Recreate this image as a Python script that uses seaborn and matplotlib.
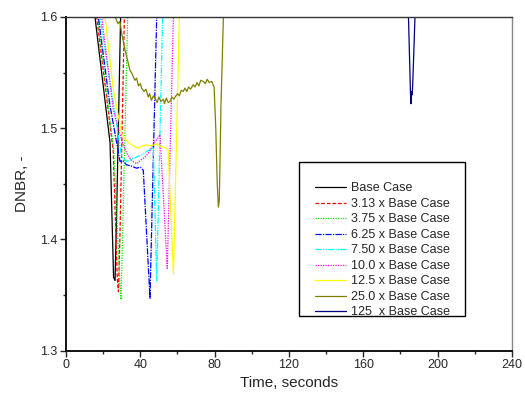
import matplotlib
matplotlib.use("Agg")
import matplotlib.pyplot as plt
from matplotlib.ticker import MultipleLocator
from matplotlib.patches import Rectangle
import seaborn as sns
import pandas as pd

sns.set_style("ticks")
plt.rcParams['font.family'] = ['Liberation Sans', 'DejaVu Sans']

# ---- data ----
base_t = [12.0, 15.6, 23.7, 25.6, 26.4, 27.2, 29.4, 30.5]
base_v = [1.66, 1.600, 1.487, 1.366, 1.363, 1.42, 1.60, 1.66]

x313_t = [12.5, 16.5, 25.4, 27.6, 28.2, 29.0, 31.4, 32.5]
x313_v = [1.66, 1.600, 1.480, 1.365, 1.353, 1.40, 1.60, 1.66]

x375_t = [13.0, 17.0, 25.8, 29.0, 29.6, 30.4, 33.2, 34.0]
x375_v = [1.66, 1.600, 1.478, 1.360, 1.346, 1.40, 1.60, 1.66]

x625_t = [13.5, 17.4, 23.7, 29.1, 30.5, 32.6, 35.0, 38.0, 40.0, 41.6, 45.2, 48.8, 49.5]
x625_v = [1.66, 1.600, 1.520, 1.470, 1.471, 1.467, 1.466, 1.464, 1.465, 1.462, 1.347, 1.60, 1.66]

x750_t = [14.5, 18.3, 30.0, 32.6, 35.0, 38.0, 41.0, 43.4, 45.5, 47.0, 48.8, 52.0, 53.0]
x750_v = [1.66, 1.600, 1.474, 1.470, 1.472, 1.474, 1.476, 1.479, 1.481, 1.483, 1.363, 1.60, 1.66]

x100_t = [15.5, 19.2, 25.5, 30.0, 32.0, 34.4, 36.0, 38.0, 40.0, 42.5, 45.0, 47.0, 49.0, 50.6, 54.5, 57.8, 58.5]
x100_v = [1.66, 1.600, 1.516, 1.489, 1.480, 1.473, 1.470, 1.468, 1.471, 1.474, 1.479, 1.486, 1.490, 1.494, 1.374, 1.60, 1.66]

x125_t = [18.0, 21.0, 25.5, 30.0, 32.0, 34.4, 36.5, 38.9, 41.0, 43.4, 46.0, 48.8, 50.5, 52.4, 54.0, 55.0, 57.8, 61.0, 62.0]
x125_v = [1.66, 1.600, 1.534, 1.495, 1.490, 1.486, 1.484, 1.482, 1.484, 1.485, 1.484, 1.486, 1.484, 1.483, 1.482, 1.480, 1.369, 1.60, 1.66]

x250_t = [24.0, 26.4, 28.0, 29.0, 30.0, 31.8, 33.0, 34.4, 35.5, 37.1, 38.0, 39.0, 40.0, 40.7, 42.0, 43.0, 44.3, 45.0,
          46.0, 47.0, 47.9, 49.0, 50.0, 51.0, 52.4, 53.0, 54.0, 55.0, 56.0, 57.0, 58.0, 58.7, 60.0, 61.0, 62.0, 63.1,
          64.0, 65.0, 66.0, 67.0, 68.5, 69.5, 70.5, 71.5, 72.5, 73.9, 75.0, 76.0, 77.0, 78.4, 79.7, 80.6, 81.4, 82.0,
          82.5, 83.4, 84.7, 85.5]
x250_v = [1.66, 1.600, 1.594, 1.596, 1.585, 1.570, 1.562, 1.552, 1.549, 1.543, 1.545, 1.538, 1.540, 1.536, 1.533, 1.535,
          1.528, 1.531, 1.525, 1.529, 1.527, 1.523, 1.528, 1.524, 1.526, 1.522, 1.527, 1.523, 1.524, 1.528, 1.526,
          1.528, 1.531, 1.529, 1.534, 1.533, 1.536, 1.533, 1.537, 1.535, 1.539, 1.537, 1.541, 1.538, 1.543, 1.542,
          1.540, 1.544, 1.541, 1.542, 1.537, 1.500, 1.450, 1.429, 1.435, 1.520, 1.600, 1.66]

x1250_t = [183.5, 184.3, 185.4, 185.7, 186.0, 186.3, 186.6, 187.8, 188.5]
x1250_v = [1.66, 1.600, 1.530, 1.522, 1.533, 1.530, 1.540, 1.600, 1.66]

labels = ["Base Case", "3.13 x Base Case", "3.75 x Base Case", "6.25 x Base Case",
          "7.50 x Base Case", "10.0 x Base Case", "12.5 x Base Case", "25.0 x Base Case",
          "125  x Base Case"]
series_t = [base_t, x313_t, x375_t, x625_t, x750_t, x100_t, x125_t, x250_t, x1250_t]
series_v = [base_v, x313_v, x375_v, x625_v, x750_v, x100_v, x125_v, x250_v, x1250_v]

colors = ["#000000", "#ff0000", "#00ee00", "#0000ff", "#00ffff", "#ff00ff", "#ffff00", "#808000", "#000080"]
dashes = ["-", (0, (3, 1.5)), (0, (1, 1)), (0, (5, 1, 1, 1)), (0, (5, 1, 1, 1, 1, 1)),
          (0, (1, 1)), "-", "-", "-"]
widths = [0.9, 0.9, 0.9, 0.9, 0.9, 0.9, 0.9, 0.9, 0.9]

fig = plt.figure(figsize=(5.25, 4.03), dpi=100)
ax = fig.add_axes([0.1257, 0.130, 0.8495, 0.828])

for lab, t, v, c, ls, lw in zip(labels, series_t, series_v, colors, dashes, widths):
    df = pd.DataFrame({"t": t, "v": v})
    sns.lineplot(data=df, x="t", y="v", ax=ax, color=c, linestyle=ls, linewidth=lw,
                 label=lab, sort=False, estimator=None)

ax.set_xlim(0, 240)
ax.set_ylim(1.3, 1.6)
ax.xaxis.set_major_locator(MultipleLocator(40))
ax.xaxis.set_minor_locator(MultipleLocator(20))
ax.yaxis.set_major_locator(MultipleLocator(0.1))
ax.yaxis.set_minor_locator(MultipleLocator(0.05))
ax.yaxis.set_major_formatter(matplotlib.ticker.FormatStrFormatter('%.1f'))
ax.tick_params(which='major', direction='out', length=4, width=1, labelsize=9, pad=2)
ax.tick_params(which='minor', direction='out', length=2.5, width=1)

for side in ['left', 'bottom']:
    ax.spines[side].set_linewidth(1.4)
    ax.spines[side].set_color('#111111')
ax.spines['top'].set_linewidth(1.0)
ax.spines['top'].set_color('#333333')
ax.spines['right'].set_linewidth(1.0)
ax.spines['right'].set_color('#888888')

ax.set_xlabel("Time, seconds", fontsize=11, labelpad=4)
ax.set_ylabel("DNBR, -", fontsize=11, labelpad=8)

# legend frame drawn as a separate box, entries placed inside it
frame = Rectangle((0.5224, 0.1034), 0.8946 - 0.5224, 0.5652 - 0.1034, transform=ax.transAxes,
                  facecolor='white', edgecolor='black', linewidth=1.0, zorder=4)
ax.add_patch(frame)
leg = ax.legend(loc='upper left', bbox_to_anchor=(0.558, 0.504), fontsize=9,
                frameon=False, handlelength=2.5, handletextpad=0.4, labelspacing=0.28,
                borderpad=0, borderaxespad=0)
leg.set_zorder(5)

fig.savefig("out.png", dpi=100)
